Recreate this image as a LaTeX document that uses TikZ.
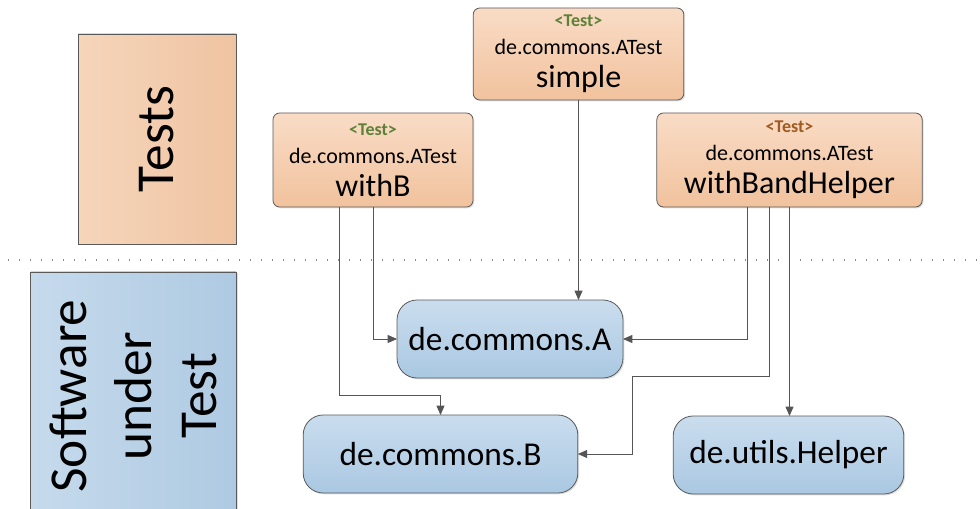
\documentclass[tikz,border=0pt]{standalone}
\usepackage{fontspec}
\setmainfont{Carlito}
\usepackage{xcolor}
\usepackage{tikz}
\usetikzlibrary{calc, arrows.meta, shadows, positioning}
\definecolor{testtop}{HTML}{F9DCC6}
\definecolor{testbot}{HTML}{F1C29D}
\definecolor{unittop}{HTML}{CADDEE}
\definecolor{unitbot}{HTML}{AAC8E2}
\definecolor{testleft}{HTML}{F6D5BB}
\definecolor{testright}{HTML}{EFC4A1}
\definecolor{unitleft}{HTML}{C6DAEC}
\definecolor{unitright}{HTML}{AECAE2}
\definecolor{bordergray}{HTML}{595959}
\definecolor{linegray}{HTML}{555555}
\definecolor{taggreen}{HTML}{5E8138}
\definecolor{tagbrown}{HTML}{A05A22}
\tikzset{
    layernode/.style = {draw=bordergray, rectangle, inner sep=0em, outer sep=0em, line width=0.6pt,
      font=\fontsize{40}{49}\selectfont, align=center,
      drop shadow={shadow xshift=1pt, shadow yshift=-1pt, opacity=0.25}},
    testnode/.style = {draw=bordergray, rectangle, rounded corners=5pt, inner sep=0em, outer sep=0em,
      line width=0.6pt, top color=testtop, bottom color=testbot, align=center,
      font=\fontsize{16.5}{21}\selectfont,
      drop shadow={shadow xshift=1pt, shadow yshift=-1pt, opacity=0.25}},
    unitnode/.style = {draw=bordergray, rectangle, rounded corners=15pt, inner sep=0em, outer sep=0em,
      line width=0.6pt, top color=unittop, bottom color=unitbot, minimum height=58.5pt,
      font=\fontsize{25}{30}\selectfont,
      drop shadow={shadow xshift=1pt, shadow yshift=-1pt, opacity=0.25}},
    separator/.style = {draw=black!45, line width=1.3pt, dash pattern=on 1pt off 7.25pt},
    connect/.style = {draw=linegray, line width=0.6pt, -{Triangle[length=7pt, width=6pt]}},
    every text node part/.style={align=center}
}
\newcommand{\testtag}[1]{{\bfseries\fontsize{13.5}{16}\selectfont\color{#1}<Test>}}
\newcommand{\testname}[1]{{\fontsize{24}{25}\selectfont #1}}

\begin{document}
\begin{tikzpicture}[x=0.75pt, y=-0.75pt]
    \clip (0,0) rectangle (980,509);
    \useasboundingbox (0,0) rectangle (980,509);

    % layers
    \node [name=tests, layernode, rotate=90, left color=testleft, right color=testright,
        minimum width=157.5pt, minimum height=118.5pt] at (157,139) {Tests};
    \node [name=sut, layernode, rotate=90, left color=unitleft, right color=unitright,
        minimum width=186pt, minimum height=154pt] at (133.5,396) {Software\\under\\Test};
    \draw [separator] (8,260) -- (980,260);

    % test cases
    \node [name=simple, testnode, minimum width=158pt, minimum height=69pt] at (578.5,54)
        {\testtag{taggreen}\\de.commons.ATest\\[4pt]\testname{simple}};
    \node [name=withB, testnode, minimum width=150pt, minimum height=70.5pt] at (373,160)
        {\testtag{taggreen}\\de.commons.ATest\\[4pt]\testname{withB}};
    \node [name=withBH, testnode, minimum width=199pt, minimum height=70.5pt] at (789.5,160)
        {\testtag{tagbrown}\\de.commons.ATest\\[4pt]\testname{withBandHelper}};

    % units
    \node [name=unitA, unitnode, minimum width=169.5pt] at (510,339) {de.commons.A};
    \node [name=unitB, unitnode, minimum width=206pt] at (440.5,454) {de.commons.B};
    \node [name=helper, unitnode, minimum width=173pt] at (788.5,455) {de.utils.Helper};

    \coordinate (bendB) at (339,395);
    \coordinate (bendH) at (632,376);

    \draw [connect] (simple.south) -- (simple.south |- unitA.north);
    \draw [connect] (withB.south) |- (unitA.west);
    \draw [connect] (withB.south -| bendB) |- (bendB) -| (unitB.north);
    \draw [connect] ($(withBH.south)+(-42,0)$) |- (unitA.east);
    \draw [connect] ($(withBH.south)+(-20,0)$) |- (bendH) |- (unitB.east);
    \draw [connect] (withBH.south) -- (withBH.south |- helper.north);
\end{tikzpicture}
\end{document}
